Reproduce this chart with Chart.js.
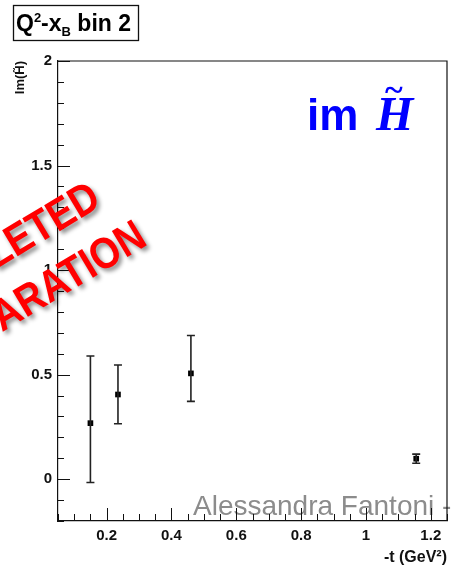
<!DOCTYPE html>
<html>
<head>
<meta charset="utf-8">
<script src="https://cdn.jsdelivr.net/npm/chart.js@4.4.1/dist/chart.umd.min.js"></script>
<style>
  html, body { margin: 0; padding: 0; background: #fff; }
  canvas { display: block; }
</style>
</head>
<body>
<canvas id="chart" width="453" height="567"></canvas>
<script>
// values
const tValues = [0.15, 0.235, 0.46, 1.155];      // -t (GeV^2)
const imH = [0.268, 0.405, 0.506, 0.098];
const errLow = [0.284, 0.14, 0.134, 0.022];
const errHigh = [0.321, 0.141, 0.181, 0.022];

const xMin = 0.05, xMax = 1.25, xStep = 0.05, xLabelEvery = 0.2;
const yMin = -0.2, yMax = 2, yStep = 0.1, yLabelEvery = 0.5;

const tickFont = { family: 'Liberation Sans, Arial, sans-serif', size: 15, weight: 'bold' };

function isMultiple(v, m) {
    const r = v / m;
    return Math.abs(r - Math.round(r)) < 1e-6;
}
function fmt(v) {
    return String(Math.round(v * 100) / 100);
}

// error bars drawn from the scales
const errorBars = {
    id: 'errorBars',
    afterDatasetsDraw(chart) {
        const ctx = chart.ctx;
        const x = chart.scales.x, y = chart.scales.y;
        ctx.save();
        ctx.strokeStyle = '#222';
        ctx.lineWidth = 1.6;
        tValues.forEach((t, i) => {
            const px = x.getPixelForValue(t);
            const top = y.getPixelForValue(imH[i] + errHigh[i]);
            const bot = y.getPixelForValue(imH[i] - errLow[i]);
            ctx.beginPath();
            ctx.moveTo(px, top); ctx.lineTo(px, bot);
            ctx.moveTo(px - 4, top); ctx.lineTo(px + 4, top);
            ctx.moveTo(px - 4, bot); ctx.lineTo(px + 4, bot);
            ctx.stroke();
        });
        ctx.restore();
    }
};

// ROOT style frame: inward ticks, top and right border, texts
const decorations = {
    id: 'decorations',
    afterDraw(chart) {
        const ctx = chart.ctx;
        const a = chart.chartArea;
        const x = chart.scales.x, y = chart.scales.y;
        ctx.save();

        // watermark
        ctx.fillStyle = '#8c8c8c';
        ctx.font = '28px "Liberation Sans", Arial, sans-serif';
        ctx.textBaseline = 'alphabetic';
        ctx.fillText('Alessandra Fantoni -', 193, 515);

        // frame
        ctx.strokeStyle = '#111';
        ctx.lineWidth = 1.2;
        ctx.beginPath();
        ctx.moveTo(a.left, a.top); ctx.lineTo(a.right, a.top); ctx.lineTo(a.right, a.bottom);
        ctx.stroke();

        // inward ticks
        ctx.lineWidth = 1;
        ctx.beginPath();
        x.ticks.forEach(tk => {
            const px = Math.round(x.getPixelForValue(tk.value)) + 0.5;
            const len = isMultiple(tk.value, xLabelEvery) ? 13 : 7;
            ctx.moveTo(px, a.bottom); ctx.lineTo(px, a.bottom - len);
        });
        y.ticks.forEach(tk => {
            const py = Math.round(y.getPixelForValue(tk.value)) + 0.5;
            const len = isMultiple(tk.value, yLabelEvery) ? 12 : 6;
            ctx.moveTo(a.left, py); ctx.lineTo(a.left + len, py);
        });
        ctx.stroke();

        // title box
        ctx.lineWidth = 1.3;
        ctx.strokeRect(13.5, 5.5, 125, 35);
        ctx.fillStyle = '#000';
        let cx = 16;
        const base = 31;
        const big = 'bold 23px "Liberation Sans", Arial, sans-serif';
        const small = 'bold 13px "Liberation Sans", Arial, sans-serif';
        const put = (txt, font, dy) => {
            ctx.font = font;
            ctx.fillText(txt, cx, base + dy);
            cx += ctx.measureText(txt).width;
        };
        put('Q', big, 0);
        put('2', small, -9);
        put('-x', big, 0);
        put('B', small, 5);
        put(' bin 2', big, 0);

        // blue label
        ctx.fillStyle = '#0000ff';
        ctx.font = 'bold 44px "Liberation Sans", Arial, sans-serif';
        ctx.fillText('im', 307, 130);
        ctx.font = 'bold italic 48px "Liberation Serif", "DejaVu Serif", serif';
        ctx.fillText('H', 376, 130);
        ctx.font = 'bold 34px "Liberation Serif", "DejaVu Serif", serif';
        ctx.fillText('~', 385, 101);

        // red stamp
        ctx.fillStyle = '#ff0000';
        ctx.font = 'bold 44px "Liberation Sans", Arial, sans-serif';
        ctx.shadowColor = 'rgba(0,0,0,0.45)';
        ctx.shadowOffsetX = 3;
        ctx.shadowOffsetY = 3;
        ctx.shadowBlur = 4;
        ctx.textAlign = 'right';
        const stamp = (txt, ex, ey) => {
            ctx.save();
            ctx.translate(ex, ey);
            ctx.rotate(-31 * Math.PI / 180);
            ctx.scale(0.87, 1);
            ctx.fillText(txt, 0, 0);
            ctx.restore();
        };
        stamp('LETED', 103, 205);
        stamp('ARATION', 149, 244);

        ctx.restore();
    }
};

const ctx = document.getElementById('chart').getContext('2d');
new Chart(ctx, {
    type: 'scatter',
    data: {
        datasets: [{
            label: 'Im(H~)',
            data: tValues.map((t, i) => ({ x: t, y: imH[i] })),
            pointStyle: 'rect',
            pointRadius: 4,
            pointBackgroundColor: '#000',
            pointBorderColor: '#000',
            pointBorderWidth: 0
        }]
    },
    options: {
        responsive: false,
        animation: false,
        devicePixelRatio: 1,
        layout: { padding: { top: 61, right: 1, left: 0, bottom: 0 } },
        plugins: {
            legend: { display: false },
            tooltip: { enabled: false }
        },
        scales: {
            x: {
                type: 'linear',
                min: xMin,
                max: xMax,
                afterFit: (s) => { s.height = 46; },
                grid: { display: false, drawTicks: false },
                border: { display: true, color: '#111', width: 1.2 },
                ticks: {
                    stepSize: xStep,
                    autoSkip: false,
                    maxRotation: 0,
                    padding: 6,
                    color: '#111',
                    font: tickFont,
                    callback: (v) => isMultiple(v, xLabelEvery) ? fmt(v) : ''
                },
                title: {
                    display: true,
                    text: '-t (GeV²)',
                    align: 'end',
                    color: '#111',
                    font: { family: 'Liberation Sans, Arial, sans-serif', size: 16, weight: 'bold' },
                    padding: 0
                }
            },
            y: {
                type: 'linear',
                min: yMin,
                max: yMax,
                afterFit: (s) => { s.width = 58; },
                grid: { display: false, drawTicks: false },
                border: { display: true, color: '#111', width: 1.2 },
                ticks: {
                    stepSize: yStep,
                    autoSkip: false,
                    padding: 6,
                    color: '#111',
                    font: tickFont,
                    callback: (v) => isMultiple(v, yLabelEvery) ? fmt(v) : ''
                },
                title: {
                    display: true,
                    text: 'Im(H̃)',
                    align: 'end',
                    color: '#111',
                    font: { family: 'Liberation Sans, Arial, sans-serif', size: 13, weight: 'bold' },
                    padding: { top: 13, bottom: 0 }
                }
            }
        }
    },
    plugins: [errorBars, decorations]
});
</script>
</body>
</html>
